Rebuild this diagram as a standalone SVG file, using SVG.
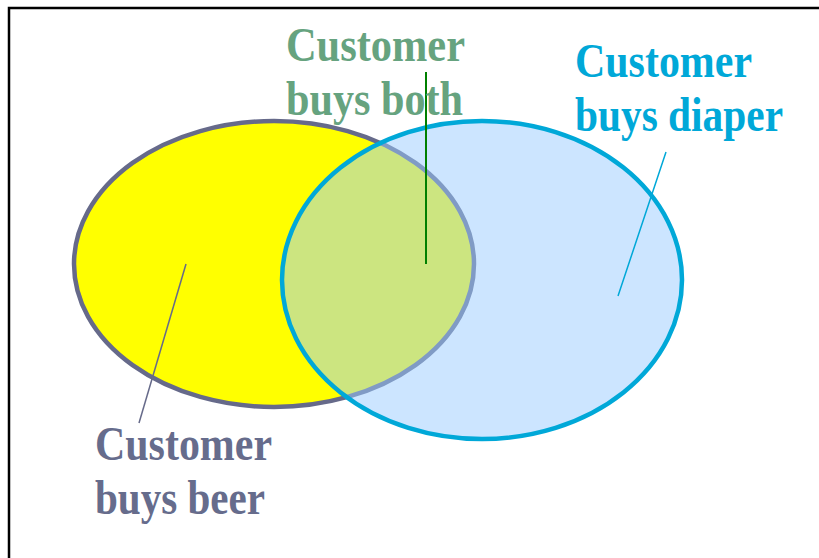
<svg xmlns="http://www.w3.org/2000/svg" width="819" height="558" viewBox="0 0 819 558">
<style>
.lbl{font-weight:bold;font-size:48px}
.both{fill:#66A37F}
.diaper{fill:#00A8D8}
.beer{fill:#666C8C}
</style>
<rect x="0" y="0" width="819" height="558" fill="#ffffff"/>
<rect x="9" y="8" width="830" height="570" fill="none" stroke="#000000" stroke-width="2.5"/>
<g id="beer">
<ellipse cx="274" cy="264" rx="200" ry="143" fill="#FFFF00" stroke="#666A8A" stroke-width="4.5"/>
</g>
<g id="diaper">
<ellipse cx="482" cy="280" rx="200" ry="159" fill="#99CCFF" fill-opacity="0.5" stroke="#00A8D8" stroke-width="4.5"/>
</g>
<g id="connectors">
<line x1="426" y1="72" x2="426" y2="264" stroke="#008000" stroke-width="2"/>
<line x1="666" y1="152" x2="618" y2="296" stroke="#00A8D8" stroke-width="1.5"/>
<line x1="186" y1="264" x2="139" y2="423" stroke="#666A8A" stroke-width="1.5"/>
</g>
<g id="label-both" font-family="'Liberation Serif', 'DejaVu Serif', serif">
<text class="lbl both" x="286" y="61" textLength="179" lengthAdjust="spacingAndGlyphs">Customer</text>
<text class="lbl both" x="286" y="115" textLength="177" lengthAdjust="spacingAndGlyphs">buys both</text>
</g>
<g id="label-diaper" font-family="'Liberation Serif', 'DejaVu Serif', serif">
<text class="lbl diaper" x="575" y="77" textLength="177" lengthAdjust="spacingAndGlyphs">Customer</text>
<text class="lbl diaper" x="575" y="131" textLength="208" lengthAdjust="spacingAndGlyphs">buys diaper</text>
</g>
<g id="label-beer" font-family="'Liberation Serif', 'DejaVu Serif', serif">
<text class="lbl beer" x="95" y="460" textLength="177" lengthAdjust="spacingAndGlyphs">Customer</text>
<text class="lbl beer" x="95" y="514" textLength="170" lengthAdjust="spacingAndGlyphs">buys beer</text>
</g>
</svg>
